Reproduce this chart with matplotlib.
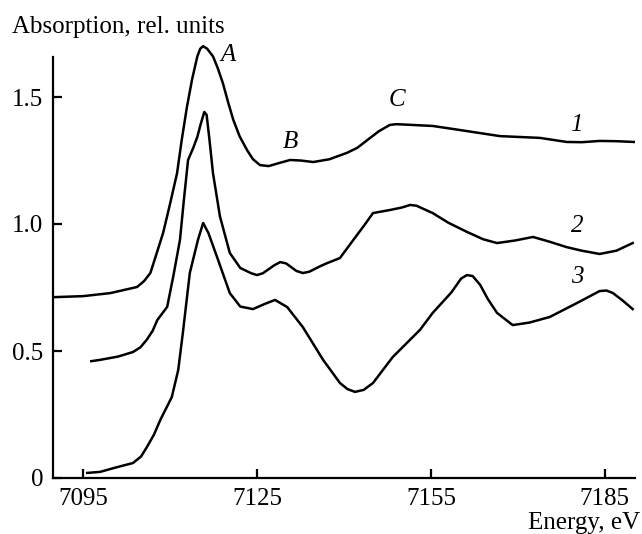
import matplotlib
matplotlib.use("Agg")
import matplotlib.pyplot as plt

# Curve 1
e1 = [7090.0, 7095.0, 7099.7, 7104.3, 7105.5, 7106.6, 7108.8, 7110.0, 7111.2, 7112.0,
      7112.9, 7113.8, 7114.7, 7115.2, 7115.7, 7116.4, 7117.4, 7118.2, 7119.1, 7120.0,
      7120.9, 7122.0, 7123.3, 7124.3, 7125.5, 7127.0, 7128.8, 7130.7, 7132.5, 7134.7,
      7137.5, 7140.5, 7142.3, 7144.0, 7146.0, 7147.9, 7149.0, 7150.0, 7155.3, 7160.0,
      7166.9, 7173.8, 7178.4, 7181.0, 7184.1, 7187.0, 7190.0]
a1 = [0.712, 0.716, 0.728, 0.752, 0.775, 0.807, 0.965, 1.08, 1.20, 1.33,
      1.46, 1.57, 1.66, 1.69, 1.70, 1.69, 1.66, 1.615, 1.555, 1.48,
      1.41, 1.345, 1.29, 1.255, 1.232, 1.228, 1.24, 1.252, 1.25, 1.244,
      1.255, 1.28, 1.30, 1.33, 1.365, 1.39, 1.393, 1.392, 1.386, 1.37,
      1.346, 1.339, 1.323, 1.322, 1.327, 1.326, 1.323]

# Curve 2
e2 = [7096.4, 7097.9, 7101.0, 7103.6, 7104.9, 7106.0, 7107.0, 7107.8, 7109.5, 7110.6,
      7111.7, 7112.4, 7113.1, 7114.0, 7114.7, 7115.3, 7115.9, 7116.3, 7116.8, 7117.4,
      7118.6, 7120.3, 7122.1, 7124.0, 7125.0, 7126.0, 7128.0, 7129.0, 7130.0, 7131.8,
      7132.9, 7134.0, 7136.0, 7137.1, 7139.3, 7141.6, 7143.5, 7145.0, 7147.9, 7150.0,
      7151.4, 7152.5, 7155.3, 7158.0, 7161.2, 7164.0, 7166.4, 7169.5, 7172.6, 7175.5,
      7178.4, 7181.0, 7184.1, 7187.0, 7189.8]
a2 = [0.46, 0.465, 0.478, 0.496, 0.515, 0.545, 0.58, 0.622, 0.674, 0.80,
      0.937, 1.10, 1.252, 1.30, 1.343, 1.395, 1.441, 1.43, 1.33, 1.20,
      1.03, 0.886, 0.827, 0.806, 0.799, 0.806, 0.838, 0.850, 0.845, 0.815,
      0.807, 0.812, 0.835, 0.846, 0.866, 0.937, 0.995, 1.043, 1.055, 1.065,
      1.075, 1.072, 1.043, 1.005, 0.969, 0.94, 0.925, 0.935, 0.949, 0.93,
      0.909, 0.895, 0.882, 0.895, 0.925]

# Curve 3
e3 = [7095.7, 7097.9, 7100.9, 7103.6, 7105.0, 7106.0, 7107.2, 7108.3, 7110.3, 7111.4,
      7112.2, 7113.4, 7114.8, 7115.7, 7116.6, 7118.1, 7120.3, 7122.1, 7124.3, 7126.3,
      7128.1, 7130.2, 7132.9, 7136.4, 7139.3, 7140.6, 7141.9, 7143.4, 7145.0, 7148.4,
      7153.1, 7155.3, 7158.5, 7160.2, 7161.2, 7162.2, 7163.5, 7164.8, 7166.4, 7169.1,
      7172.0, 7175.5, 7180.2, 7184.1, 7185.3, 7186.4, 7188.0, 7189.8]
a3 = [0.02, 0.024, 0.043, 0.059, 0.085, 0.122, 0.17, 0.228, 0.319, 0.425,
      0.571, 0.807, 0.937, 1.004, 0.965, 0.87, 0.728, 0.675, 0.665, 0.685,
      0.701, 0.673, 0.594, 0.465, 0.374, 0.35, 0.339, 0.347, 0.374, 0.476,
      0.583, 0.65, 0.73, 0.785, 0.799, 0.795, 0.76, 0.705, 0.65, 0.602,
      0.612, 0.634, 0.689, 0.736, 0.738, 0.728, 0.70, 0.665]

xticks = [7095, 7125, 7155, 7185]
yticks = [0, 0.5, 1.0, 1.5]
ytick_labels = ["0", "0.5", "1.0", "1.5"]

plt.rcParams['font.family'] = ['Liberation Serif', 'DejaVu Serif']
plt.rcParams['font.size'] = 18

fig = plt.figure(figsize=(6.42, 5.34), dpi=100)
ax = fig.add_axes([53 / 642, 56 / 534, 582 / 642, 1.72 * 254 / 534])

for e, a in [(e1, a1), (e2, a2), (e3, a3)]:
    ax.plot(e, a, color='black', lw=1.8, solid_joinstyle='round')

ax.set_xlim(7089.8, 7190.2)
ax.set_ylim(0, 1.72)
ax.spines['top'].set_visible(False)
ax.spines['right'].set_visible(False)
ax.spines['left'].set_bounds(0, 1.657)
for s in ['left', 'bottom']:
    ax.spines[s].set_linewidth(1.6)

ax.set_xticks(xticks)
ax.set_xticklabels([str(t) for t in xticks])
ax.set_yticks(yticks)
ax.set_yticklabels(ytick_labels)
ax.tick_params(direction='in', length=6.5, width=1.6, pad=7, labelsize=18)

# curve / feature labels
it = dict(style='italic', fontsize=18, ha='center', va='center')
ax.text(7120.0, 1.665, 'A', **it)
ax.text(7130.7, 1.323, 'B', **it)
ax.text(7149.1, 1.488, 'C', **it)
ax.text(7180.0, 1.39, '1', **it)
ax.text(7180.2, 0.992, '2', **it)
ax.text(7180.2, 0.791, '3', **it)

fig.text(12 / 642, (534 - 33) / 534, 'Absorption, rel. units', ha='left', va='baseline')
fig.text(640 / 642, (534 - 512) / 534, 'Energy, eV', ha='right', va='top')

fig.savefig('out.png', dpi=100)
